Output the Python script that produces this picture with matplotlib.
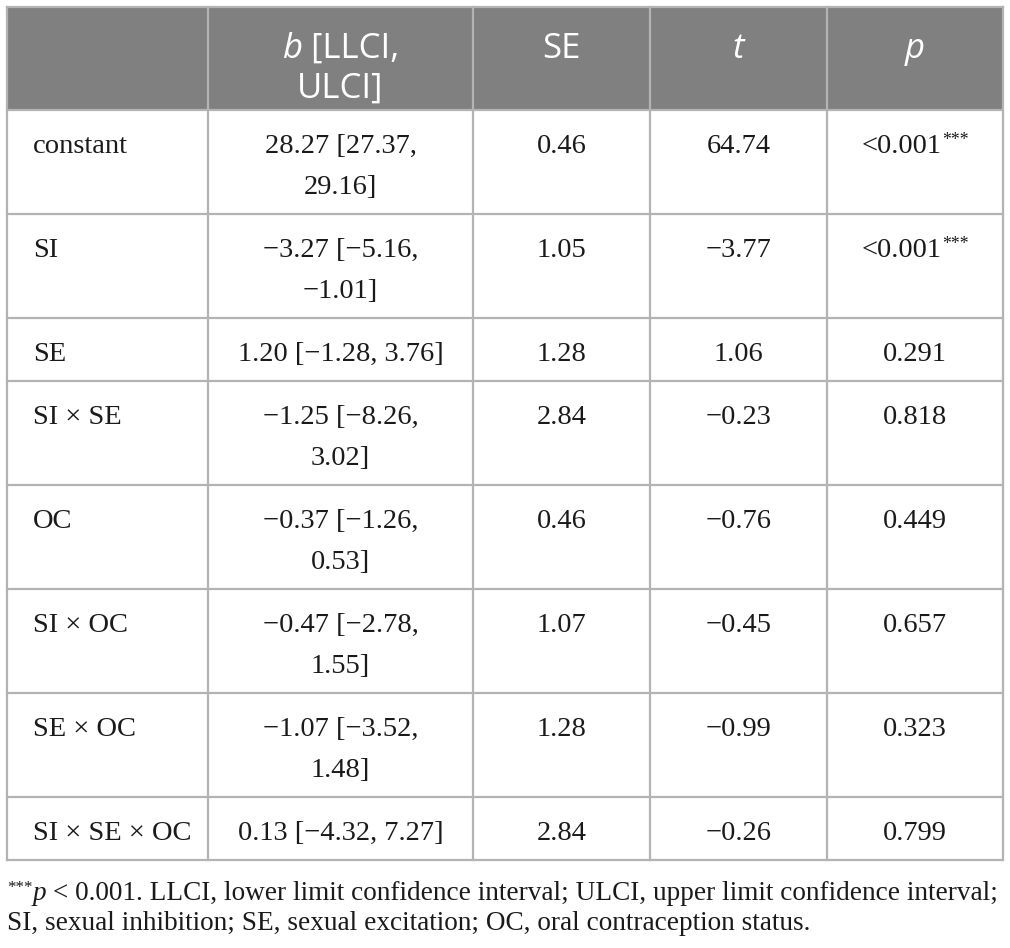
"""Moderated regression table (b [LLCI, ULCI], SE, t, p) drawn as a matplotlib figure."""
import re

import matplotlib
matplotlib.use("Agg")
import matplotlib.pyplot as plt
from matplotlib.patches import Rectangle

# table content
header = ["", "_b_ [LLCI,\nULCI]", "SE", "_t_", "_p_"]
terms = ["constant", "SI", "SE", "SI × SE", "OC", "SI × OC", "SE × OC", "SI × SE × OC"]
b_ci = ["28.27 [27.37,\n29.16]", "−3.27 [−5.16,\n−1.01]", "1.20 [−1.28, 3.76]",
        "−1.25 [−8.26,\n3.02]", "−0.37 [−1.26,\n0.53]", "−0.47 [−2.78,\n1.55]",
        "−1.07 [−3.52,\n1.48]", "0.13 [−4.32, 7.27]"]
se = ["0.46", "1.05", "1.28", "2.84", "0.46", "1.07", "1.28", "2.84"]
t_val = ["64.74", "−3.77", "1.06", "−0.23", "−0.76", "−0.45", "−0.99", "−0.26"]
p_val = ["<0.001^***^", "<0.001^***^", "0.291", "0.818", "0.449", "0.657", "0.323", "0.799"]
footnote = ["^***^_p_ < 0.001. LLCI, lower limit confidence interval; ULCI, upper limit confidence interval;",
            "SI, sexual inhibition; SE, sexual excitation; OC, oral contraception status."]

HEAD_BG = "#808080"
GRID = "#b3b3b3"
TXT = "#1a1a1a"
SERIF = "Liberation Serif"
SANS = "Open Sans"

W, H = 1010, 948
col_x = [7, 208, 473, 650, 827, 1003]
top = 7
head_h = 103
line_h = 41

fig = plt.figure(figsize=(W / 100, H / 100), dpi=100)
ax = fig.add_axes([0, 0, 1, 1])
ax.set_xlim(0, W)
ax.set_ylim(H, 0)
ax.axis("off")
rend = fig.canvas.get_renderer()


def parse(s):
    runs = []
    for tok in re.split(r"(_[^_]+_|\^[^^]+\^)", s):
        if not tok:
            continue
        if tok[0] == "_":
            runs.append((tok[1:-1], "it"))
        elif tok[0] == "^":
            runs.append((tok[1:-1], "sup"))
        else:
            runs.append((tok, "rm"))
    return runs


def props(kind, family, size, color):
    p = dict(family=family, size=size, color=color, ha="left", va="baseline")
    if kind == "it":
        p["style"] = "italic"
    if kind == "sup":
        p["size"] = size * 0.62
    return p


def width(s, p):
    a = ax.text(0, 0, "|" + s + "|", **p)
    b = ax.text(0, 0, "||", **p)
    w = a.get_window_extent(rend).width - b.get_window_extent(rend).width
    a.remove()
    b.remove()
    return w


def rich(x, y, s, family, size, color=TXT, ha="center"):
    runs = [(txt, props(k, family, size, color), k) for txt, k in parse(s)]
    widths = [width(txt, p) for txt, p, _ in runs]
    total = sum(widths)
    cx = x - total / 2 if ha == "center" else x
    for (txt, p, k), w in zip(runs, widths):
        dy = -size * 100 / 72 * 0.28 if k == "sup" else 0
        ax.text(cx, y + dy, txt, **p)
        cx += w


rows = [[terms[i], b_ci[i], se[i], t_val[i], p_val[i]] for i in range(len(terms))]
heights = [22 + line_h * max(c.count("\n") + 1 for c in r) for r in rows]

edges = [top, top + head_h]
for h in heights:
    edges.append(edges[-1] + h)

ax.add_patch(Rectangle((col_x[0], top), col_x[-1] - col_x[0], head_h,
                       facecolor=HEAD_BG, edgecolor="none"))

# header text
for j, lab in enumerate(header):
    cx = (col_x[j] + col_x[j + 1]) / 2
    for k, line in enumerate(lab.split("\n")):
        if line:
            rich(cx, top + 51 + k * 40, line, SANS, 25, color="white")

# body text
for i, r in enumerate(rows):
    y0 = edges[i + 1]
    for j, cell in enumerate(r):
        for k, line in enumerate(cell.split("\n")):
            y = y0 + 43 + k * line_h
            if j == 0:
                rich(col_x[0] + 26, y, line, SERIF, 20.5, ha="left")
            else:
                rich((col_x[j] + col_x[j + 1]) / 2, y, line, SERIF, 20.5)

# grid
for y in edges:
    ax.plot([col_x[0], col_x[-1]], [y, y], color=GRID, lw=1.6, solid_capstyle="projecting")
for x in col_x:
    ax.plot([x, x], [top, edges[-1]], color=GRID, lw=1.6, solid_capstyle="projecting")

# footnote
for k, line in enumerate(footnote):
    rich(col_x[0], edges[-1] + 40 + k * 30, line, SERIF, 19.6, ha="left")

fig.savefig("out.png", dpi=100)
